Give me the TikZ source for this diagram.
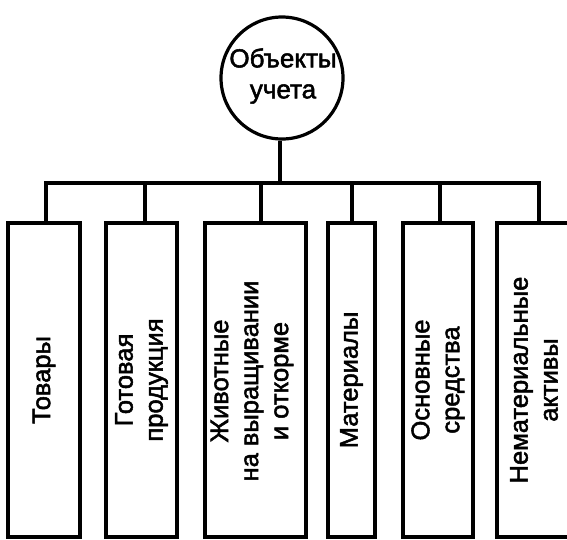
\documentclass[tikz,border=0pt]{standalone}
\usepackage{fontspec}
\setmainfont{Liberation Sans}[FakeBold=2]
\begin{document}
\begin{tikzpicture}[x=1pt,y=-1pt,
  line width=3.2pt,
  rootnode/.style={circle,draw,minimum size=122pt,inner sep=0pt},
  itembox/.style={draw,rectangle,inner sep=0pt,minimum height=314pt},
  itemtext/.style={rotate=90,align=center,font=\fontsize{25.5}{30}\selectfont},
  link/.style={line width=3.2pt}]
\useasboundingbox (0,0) rectangle (567,539);
\clip (0,0) rectangle (567,539);

% root of the hierarchy
\node[rootnode] (root) at (282,78) {};
\node[align=center,font=\fontsize{26}{31}\selectfont] (roottext) at (283,76) {Объекты\\учета};

% account categories
\node[itembox,minimum width=72pt]  (b1) at (44,380)    {};
\node[itembox,minimum width=71pt]  (b2) at (141.5,380) {};
\node[itembox,minimum width=101pt] (b3) at (255.5,380) {};
\node[itembox,minimum width=47pt]  (b4) at (351.5,380) {};
\node[itembox,minimum width=70pt]  (b5) at (438,380)   {};
\node[itembox,minimum width=74pt]  (b6) at (534,380)   {};

\node[itemtext] (t1) at (b1.center) {Товары};
\node[itemtext] (t2) at (b2.center) {Готовая\\продукция};
\node[itemtext] (t3) at (252,381) {Животные\\на выращивании\\и откорме};
\node[itemtext] (t4) at (b4.center) {Материалы};
\node[itemtext] (t5) at (b5.center) {Основные\\средства};
\node[itemtext] (t6) at (b6.center) {Нематериальные\\активы};

% connecting bus
\coordinate (d1) at (46,183);
\coordinate (d2) at (145,183);
\coordinate (d3) at (261,183);
\coordinate (d4) at (352,183);
\coordinate (d5) at (440,183);
\coordinate (d6) at (539,183);
\coordinate (top) at (280,183);

\draw[link] (root.south -| top) -- (top);
\draw[link,line cap=rect] (d1) -- (d6);
\foreach \i in {1,...,6}{
  \draw[link] (d\i) -- (d\i |- b\i.north);
}
\end{tikzpicture}
\end{document}
